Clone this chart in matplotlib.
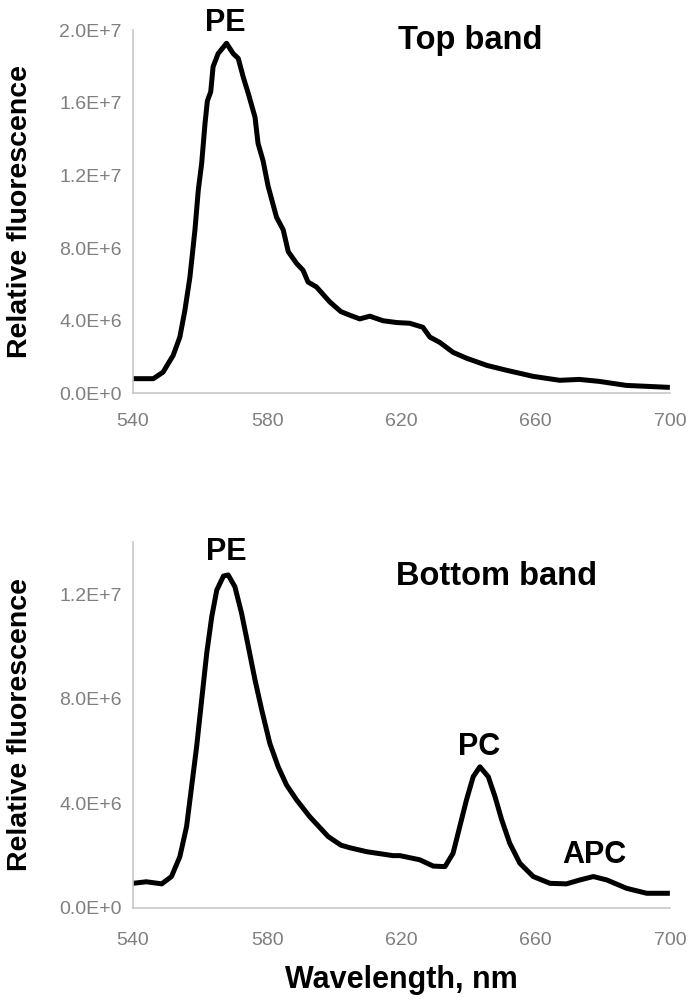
import numpy as np
import matplotlib
matplotlib.use("Agg")
import matplotlib.pyplot as plt
from matplotlib.ticker import FuncFormatter

plt.rcParams['font.family'] = ['Liberation Sans', 'DejaVu Sans']

# ---------- data ----------
# top band spectrum
top_wl = [540, 546.1, 549, 552, 554, 555.5, 557, 558.5, 559.5, 560.5, 561.5,
          562.2, 563.2, 563.9, 565.4, 567.9, 569.9, 571.4, 572.9, 574.4,
          576.4, 577.3, 578.8, 580.3, 582.8, 584.8, 586.3, 588.8, 590.7,
          592.2, 594.7, 598.7, 602, 604.7, 607.6, 610.6, 614.5, 618.6, 622.5,
          626.4, 628.5, 631.5, 635.4, 639.5, 645.5, 651.4, 659.2, 667.2, 673,
          679, 687, 700]
top_val = [0.81e6, 0.81e6, 1.17e6, 2.09e6, 3.1e6, 4.57e6, 6.4e6, 9.0e6,
           11.2e6, 12.66e6, 14.86e6, 16.1e6, 16.6e6, 17.98e6, 18.7e6, 19.27e6,
           18.7e6, 18.44e6, 17.4e6, 16.5e6, 15.2e6, 13.76e6, 12.8e6, 11.4e6,
           9.7e6, 9.0e6, 7.8e6, 7.15e6, 6.78e6, 6.13e6, 5.86e6, 5.03e6, 4.5e6,
           4.3e6, 4.1e6, 4.25e6, 4.0e6, 3.9e6, 3.86e6, 3.64e6, 3.1e6, 2.8e6,
           2.26e6, 1.93e6, 1.54e6, 1.27e6, 0.94e6, 0.72e6, 0.77e6, 0.66e6,
           0.44e6, 0.33e6]

# bottom band spectrum
bot_wl = [540, 544, 548.6, 551.5, 554, 556, 557.5, 559, 560.5, 562, 563.5,
          565, 567, 568.4, 570.4, 572.4, 574.4, 576.4, 578.4, 580.8, 583.3,
          585.8, 588.8, 592.7, 598.2, 602, 604.7, 609.7, 617.5, 619.6, 625.5,
          629.5, 633, 635.4, 637.4, 639.4, 641.4, 643.4, 645.9, 647.9, 649.9,
          652.3, 655.3, 659.3, 664.3, 669.2, 673.2, 677.2, 681.2, 687.1,
          693.1, 700]
bot_val = [0.94e6, 1.0e6, 0.92e6, 1.2e6, 1.96e6, 3.11e6, 4.64e6, 6.17e6,
           7.96e6, 9.74e6, 11.14e6, 12.16e6, 12.7e6, 12.74e6, 12.29e6,
           11.27e6, 10.0e6, 8.72e6, 7.57e6, 6.3e6, 5.4e6, 4.7e6, 4.13e6,
           3.49e6, 2.73e6, 2.4e6, 2.3e6, 2.15e6, 2.0e6, 2.0e6, 1.84e6, 1.6e6,
           1.58e6, 2.09e6, 3.11e6, 4.13e6, 5.02e6, 5.4e6, 5.02e6, 4.26e6,
           3.37e6, 2.47e6, 1.71e6, 1.2e6, 0.94e6, 0.92e6, 1.07e6, 1.2e6,
           1.07e6, 0.75e6, 0.56e6, 0.56e6]

x_ticks = [540, 580, 620, 660, 700]
top_yticks = [0, 4e6, 8e6, 1.2e7, 1.6e7, 2.0e7]
bot_yticks = [0, 4e6, 8e6, 1.2e7]

# labels: (text, wavelength, value, fontsize)
top_labels = [("PE", 567.4, 2.04e7, 22), ("Top band", 640.4, 1.945e7, 23.5)]
bot_labels = [("PE", 567.7, 1.36e7, 22), ("Bottom band", 648.5, 1.27e7, 23.5),
              ("PC", 643.2, 6.16e6, 22), ("APC", 677.4, 2.03e6, 22)]


def sci_fmt(v, pos):
    s = "%.1E" % v
    mant, ex = s.split("E")
    return mant + "E" + ex[0] + str(int(ex[1:]))


fig = plt.figure(figsize=(6.92, 10.01), dpi=100)
ax1 = fig.add_axes([0.192, 0.607, 0.776, 0.363])
ax2 = fig.add_axes([0.192, 0.093, 0.776, 0.3655])

panels = [(ax1, top_wl, top_val, top_yticks, 2.0e7, top_labels, 14),
          (ax2, bot_wl, bot_val, bot_yticks, 1.4e7, bot_labels, 17)]

for ax, wl, val, yt, ymax, labels, xpad in panels:
    ax.plot(wl, val, color="black", lw=3.6, solid_joinstyle="round",
            solid_capstyle="butt")
    ax.set_xlim(540, 700)
    ax.set_ylim(0, ymax)
    ax.set_xticks(x_ticks)
    ax.set_yticks(yt)
    ax.yaxis.set_major_formatter(FuncFormatter(sci_fmt))
    for s in ["top", "right"]:
        ax.spines[s].set_visible(False)
    for s in ["left", "bottom"]:
        ax.spines[s].set_color("#c8c8c8")
        ax.spines[s].set_linewidth(1.2)
    ax.tick_params(axis="both", length=0, labelsize=14, labelcolor="#7f7f7f")
    ax.tick_params(axis="x", pad=xpad)
    ax.tick_params(axis="y", pad=8)
    ax.set_ylabel("Relative fluorescence", fontsize=20.5, fontweight="bold")
    ax.yaxis.set_label_coords(-0.186, 0.5)
    for txt, x, y, fs in labels:
        ax.text(x, y, txt, ha="center", va="center", fontsize=fs,
                fontweight="bold", clip_on=False)

ax2.set_xlabel("Wavelength, nm", fontsize=22, fontweight="bold")
ax2.xaxis.set_label_coords(0.5, -0.155)

plt.savefig("out.png", dpi=100)
